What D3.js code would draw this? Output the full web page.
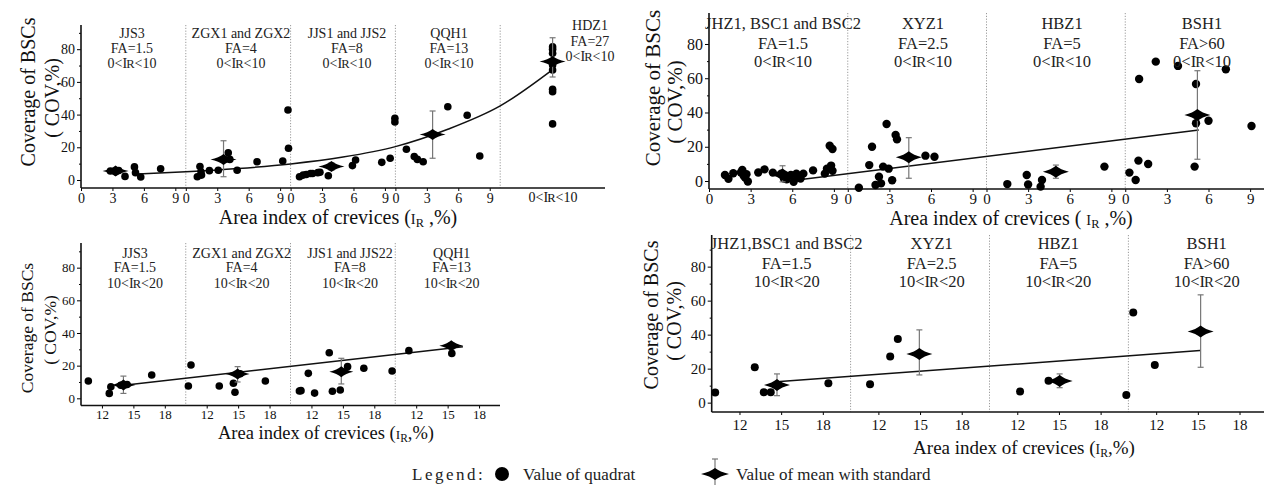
<!DOCTYPE html>
<html><head><meta charset="utf-8">
<script src="https://cdn.jsdelivr.net/npm/d3@7"></script>
<style>
body{margin:0;background:#fff}
svg{display:block}
svg text{font-family:"Liberation Serif","Tinos","Times New Roman","DejaVu Serif",serif}
</style>
</head><body>
<svg id="c" width="1264" height="485"></svg>
<script>
// ---------------- DATA ----------------
const yTicks = [0, 20, 40, 60, 80];
const lowTicks = [0, 3, 6, 9];
const highTicks = [12, 15, 18];

// Panel A (top-left): 0<IR<10
const pACats = ["JJS3", "ZGX1 and ZGX2", "JJS1 and JJS2", "QQH1", "HDZ1"];
const pAFA = ["=1.5", "=4", "=8", "=13", "=27"];
const pARange = ["0", "10"];
// [segment, IR (%), COV (%)]
const pAPoints = [
  [0,2.8,5.5],[0,3.3,5],[0,3.6,5.8],[0,4.2,2.2],[0,5.1,8],[0,5.2,4.5],[0,5.7,1.8],[0,7.6,6.8],
  [1,1.1,2],[1,1.35,8.2],[1,1.45,5],[1,1.5,3],[1,2.25,5.7],[1,3.1,6],[1,4.05,16.7],[1,4.2,12.6],[1,4.9,6],[1,6.8,11.2],[1,9.25,11.6],[1,9.8,19.4],[1,9.75,42.8],
  [2,0.85,2],[2,1.2,3],[2,1.5,3.4],[2,1.9,4],[2,2.1,4],[2,2.6,4.5],[2,2.8,4.7],[2,3.6,2.6],[2,5.9,8.8],[2,6.2,12.2],[2,8.7,10.8],[2,9.5,13.3],[2,9.95,37.7],[2,9.95,35.5],
  [3,1.05,18.8],[3,1.8,14.3],[3,2.1,12.6],[3,2.65,11.2],[3,5.0,44.8],[3,6.85,39.6],[3,8.05,14.7],
  [4,5,81.5],[4,5,80],[4,5,77.5],[4,5,70.3],[4,5,67.3],[4,5,55.5],[4,5,54],[4,5,34.3]
];
// [segment, IR, mean, low, high]
const pAMeans = [[0,3.3,5.5,4,7],[1,3.6,12.6,2,24],[2,3.9,8.2,6,10.5],[3,3.55,27.9,13.3,42.2],[4,5,72.4,63,87]];
// fitted curve [global IR position, COV]
const pAFit = [[5,3.6],[10,5],[15,7],[20,9.8],[25,14],[30,20.4],[35,31],[40,45.3],[45,67.5]];

// Panel B (top-right): 0<IR<10
const pBCats = ["JHZ1, BSC1 and BSC2", "XYZ1", "HBZ1", "BSH1"];
const pBFA = ["=1.5", "=2.5", "=5", ">60"];
const pBRange = ["0", "10"];
const pBPoints = [
  [0,1.15,3.5],[0,1.4,1.3],[0,1.75,4.5],[0,2.3,5],[0,2.4,6.5],[0,2.5,3],[0,2.7,4],[0,2.8,-0.3],[0,2.6,2],[0,3.55,5],[0,4.0,6.8],[0,4.6,4.9],[0,5.2,4.3],[0,5.4,1.5],[0,5.6,1],[0,5.9,3.5],[0,6.1,-0.5],[0,6.3,4.3],[0,6.4,2],[0,6.6,1.5],[0,6.8,4.3],[0,7.5,6.2],[0,8.35,4.3],[0,8.5,7.2],[0,8.7,20.6],[0,8.9,18.7],[0,8.8,9],[0,8.9,6],
  [1,0.8,-3.9],[1,1.55,9.3],[1,1.75,20],[1,2.0,-2.3],[1,2.25,2.5],[1,2.4,-1.4],[1,2.55,8.4],[1,2.8,33.3],[1,2.95,7.2],[1,3.2,0.4],[1,3.45,26.9],[1,3.55,24.3],[1,5.6,14.8],[1,6.25,14.2],
  [2,1.5,-1.8],[2,2.9,3.5],[2,3.0,-2],[2,4.0,0.6],[2,3.9,-3.3],[2,8.5,8.4],
  [3,0.3,4.9],[3,0.75,0.6],[3,0.95,11.9],[3,1.65,9.9],[3,1.0,59.6],[3,2.2,69.7],[3,3.8,67.2],[3,7.25,65.2],[3,5.1,56.6],[3,5.1,33.7],[3,6.0,35.2],[3,9.1,32.1],[3,5.0,8.4]
];
const pBMeans = [[0,5.3,3.8,-0.5,8.9],[1,4.4,13.8,1.6,25.3],[2,5.0,5.4,1.6,9.3],[3,5.2,38.5,12.7,64.4]];
const pBFit = [[6.5,0.8],[35.3,29.8]];

// Panel C (bottom-left): 10<IR<20
const pCCats = ["JJS3", "ZGX1 and ZGX2", "JJS1 and JJS22", "QQH1"];
const pCFA = ["=1.5", "=4", "=8", "=13"];
const pCRange = ["10", "20"];
const pCPoints = [
  [0,10.7,10.6],[0,12.7,3],[0,12.85,7.1],[0,13.8,8],[0,14.4,8.5],[0,16.75,14.3],
  [1,10.5,20.4],[1,10.25,7.5],[1,13.2,7.5],[1,14.55,9.2],[1,14.7,3.7],[1,17.6,10.6],[1,15.2,15],
  [2,10.85,4.5],[2,11.0,4.7],[2,11.7,15.3],[2,12.3,3.2],[2,13.7,27.9],[2,14.0,4.3],[2,14.75,5.1],[2,15.45,19.4],[2,17.0,18.4],[2,19.7,16.7],
  [3,11.3,29.2],[3,15.4,27.5]
];
const pCMeans = [[0,14.05,8.1,3,13.6],[1,14.95,14.9,10,19.4],[2,14.85,16.3,8.8,24.5],[3,15.35,32.2,30,34]];
const pCFit = [[4.3,8.2],[36.46,31.6]];

// Panel D (bottom-right): 10<IR<20
const pDCats = ["JHZ1,BSC1 and BSC2", "XYZ1", "HBZ1", "BSH1"];
const pDFA = ["=1.5", "=2.5", "=5", ">60"];
const pDRange = ["10", "20"];
const pDPoints = [
  [0,10.25,5.9],[0,13.1,20.8],[0,13.75,6.1],[0,14.25,6.1],[0,18.4,11.4],
  [1,11.4,10.8],[1,12.85,27.1],[1,13.4,37.5],
  [2,12.2,6.5],[2,14.25,12.9],[2,19.85,4.5],
  [3,10.35,53],[3,11.9,22.2]
];
const pDMeans = [[0,14.7,10.4,4.1,16.9],[1,14.95,28.6,16.3,42.8],[2,15.05,12.8,8.8,16.9],[3,15.2,41.8,20.8,63.4]];
const pDFit = [[4.92,12.4],[35.16,30.6]];

// ---------------- DRAWING ----------------
const svg = d3.select("#c");
const FONT = '"Liberation Serif","Tinos","Times New Roman","DejaVu Serif",serif';

function diamondPath(w, h) {
  const cx = w * 0.35, cy = h * 0.35;
  return `M${-w},0 Q${-cx},${-cy} 0,${-h} Q${cx},${-cy} ${w},0 Q${cx},${cy} 0,${h} Q${-cx},${cy} ${-w},0Z`;
}
function rangeText(sel, lo, hi) {
  sel.append("tspan").text(lo + "<I");
  sel.append("tspan").attr("font-size", "0.9em").attr("dx", -1).text("R");
  sel.append("tspan").text("<" + hi);
}
function xLabel(sel, pre, post) {
  sel.append("tspan").text("Area index of crevices (" + pre);
  sel.append("tspan").attr("font-size", "0.72em").text("I");
  sel.append("tspan").attr("font-size", "0.62em").attr("dy", 3).text("R");
  sel.append("tspan").attr("dy", -3).text(post + ",%)");
}

function drawPanel(o) {
  const g = svg.append("g").attr("font-family", FONT);
  const nSeg = o.cats.length;
  const x = d3.scaleLinear().domain([0, o.nDomain]).range([o.x0, o.x1]);
  const y = d3.scaleLinear().domain([o.yMin, o.yMax]).range([o.yB, o.yT]);
  const gx = (s, v) => x(s * 10 + v - o.off);

  for (let s = 1; s < nSeg; s++) {
    g.append("line").attr("x1", x(s * 10)).attr("x2", x(s * 10))
      .attr("y1", o.yT).attr("y2", o.yB)
      .attr("stroke", "#9a9a9a").attr("stroke-width", 1).attr("stroke-dasharray", "1.2,1.6");
  }

  const ya = g.append("g").attr("transform", `translate(${o.x0},0)`)
    .call(d3.axisLeft(y).tickValues(yTicks).tickSize(4).tickSizeOuter(0).tickPadding(2).tickFormat(d3.format("d")));
  ya.attr("font-family", FONT);
  ya.select(".domain").remove();
  ya.selectAll("text").attr("font-family", FONT).attr("font-size", o.ytFs).attr("fill", "#111");
  const ym = g.append("g").attr("transform", `translate(${o.x0},0)`)
    .call(d3.axisLeft(y).tickValues([10, 30, 50, 70, 90].filter(v => v < o.yMax)).tickSize(2).tickFormat(""));
  ym.select(".domain").remove();

  const tv = [], tl = {};
  for (let s = 0; s < o.tickSegs; s++) {
    o.ticks.forEach(t => { const p = s * 10 + t - o.off; tv.push(p); tl[p] = String(t); });
  }
  const xa = g.append("g").attr("transform", `translate(0,${o.yB})`)
    .call(d3.axisBottom(x).tickValues(tv).tickSize(3).tickSizeOuter(0).tickPadding(o.tickPad).tickFormat(d => tl[d]));
  xa.attr("font-family", FONT);
  xa.select(".domain").remove();
  xa.selectAll("text").attr("font-family", FONT).attr("font-size", o.tickFs).attr("fill", "#111");

  g.append("line").attr("x1", o.x0).attr("x2", o.x0).attr("y1", o.yT).attr("y2", o.yB).attr("stroke", "#111").attr("stroke-width", 1.6);
  g.append("line").attr("x1", o.x0).attr("x2", o.x1).attr("y1", o.yB).attr("y2", o.yB).attr("stroke", "#111").attr("stroke-width", 1.6);

  g.append("path").datum(o.fit)
    .attr("d", d3.line().x(d => x(d[0])).y(d => y(d[1])).curve(d3.curveMonotoneX))
    .attr("fill", "none").attr("stroke", "#111").attr("stroke-width", 1.5);

  g.selectAll("circle.pt").data(o.points).join("circle").attr("class", "pt")
    .attr("cx", d => gx(d[0], d[1])).attr("cy", d => y(d[2])).attr("r", o.r).attr("fill", "#000");

  o.means.forEach(m => {
    const cx = gx(m[0], m[1]);
    g.append("line").attr("x1", cx).attr("x2", cx).attr("y1", y(m[3])).attr("y2", y(m[4]))
      .attr("stroke", "#777").attr("stroke-width", 1.2);
    [m[3], m[4]].forEach(v => g.append("line").attr("x1", cx - 3).attr("x2", cx + 3)
      .attr("y1", y(v)).attr("y2", y(v)).attr("stroke", "#777").attr("stroke-width", 1.2));
    g.append("path").attr("d", diamondPath(o.dw, o.dh))
      .attr("transform", `translate(${cx},${y(m[2])})`).attr("fill", "#000");
  });

  o.cats.forEach((c, i) => {
    const lx = o.labX[i];
    const ly = o.labY[i] || o.labY[0];
    const t = g.append("g").attr("font-size", o.labFs).attr("fill", "#222").attr("text-anchor", "middle");
    t.append("text").attr("x", lx).attr("y", ly[0]).text(c);
    t.append("text").attr("x", lx).attr("y", ly[1]).text("FA" + o.fa[i]);
    const r = t.append("text").attr("x", lx).attr("y", ly[2]);
    rangeText(r, o.range[0], o.range[1]);
  });

  const xl = g.append("text").attr("x", o.xlX).attr("y", o.xlY).attr("text-anchor", "middle")
    .attr("font-size", o.xlFs).attr("fill", "#111");
  xLabel(xl, o.xlPre, o.xlPost);

  g.append("text").attr("transform", `translate(${o.yl1[0]},${o.yl1[1]}) rotate(-90)`)
    .attr("text-anchor", "middle").attr("font-size", o.ylFs).attr("fill", "#111").text("Coverage of BSCs");
  g.append("text").attr("transform", `translate(${o.yl2[0]},${o.yl2[1]}) rotate(-90)`)
    .attr("text-anchor", "middle").attr("font-size", o.ylFs).attr("fill", "#111").text("( COV,%)");
  return { g, x, y };
}

const pA = drawPanel({
  cats: pACats, fa: pAFA, range: pARange, points: pAPoints, means: pAMeans, fit: pAFit,
  nDomain: 50, off: 0, ticks: lowTicks, tickSegs: 4,
  x0: 81, x1: 605, yT: 25, yB: 188, yMin: -4.9, yMax: 94.8,
  tickFs: 14, ytFs: 14, tickPad: 2, r: 3.8, dw: 13, dh: 5.5,
  labFs: 14, labX: [132, 241, 347, 449, 590],
  labY: [[38, 53, 68], [38, 53, 68], [38, 53, 68], [38, 53, 68], [30, 46, 61]],
  xlX: 338, xlY: 224, xlFs: 20, xlPre: "", xlPost: " ",
  ylFs: 20, yl1: [35, 92], yl2: [59, 98]
});
pA.g.append("text").attr("x", 553).attr("y", 202).attr("text-anchor", "middle")
  .attr("font-size", 14).attr("fill", "#111").call(s => rangeText(s, "0", "10"));

drawPanel({
  cats: pBCats, fa: pBFA, range: pBRange, points: pBPoints, means: pBMeans, fit: pBFit,
  nDomain: 40, off: 0, ticks: lowTicks, tickSegs: 4,
  x0: 709, x1: 1264, yT: 13, yB: 189, yMin: -4.67, yMax: 98.1,
  tickFs: 15, ytFs: 16, tickPad: 1, r: 4.2, dw: 13, dh: 6,
  labFs: 16.5, labX: [783, 923, 1062, 1202],
  labY: [[29, 49, 67]],
  xlX: 1011, xlY: 225, xlFs: 20, xlPre: " ", xlPost: " ",
  ylFs: 21, yl1: [660, 88], yl2: [682, 102]
});

drawPanel({
  cats: pCCats, fa: pCFA, range: pCRange, points: pCPoints, means: pCMeans, fit: pCFit,
  nDomain: 40, off: 10, ticks: highTicks, tickSegs: 4,
  x0: 81, x1: 500, yT: 243, yB: 405.5, yMin: -4.4, yMax: 95.1,
  tickFs: 13, ytFs: 13, tickPad: 1, r: 3.8, dw: 12, dh: 5.5,
  labFs: 14, labX: [135, 241.7, 350, 451.7],
  labY: [[258, 272, 288]],
  xlX: 326, xlY: 439, xlFs: 18.5, xlPre: "", xlPost: "",
  ylFs: 17.5, yl1: [33, 328], yl2: [56, 330]
});

drawPanel({
  cats: pDCats, fa: pDFA, range: pDRange, points: pDPoints, means: pDMeans, fit: pDFit,
  nDomain: 40, off: 10, ticks: highTicks, tickSegs: 4,
  x0: 711.7, x1: 1267.3, yT: 235, yB: 412, yMin: -5.5, yMax: 98.6,
  tickFs: 15, ytFs: 15, tickPad: 4, r: 4, dw: 13, dh: 6,
  labFs: 16.5, labX: [786.7, 931.7, 1058.3, 1206.7],
  labY: [[249, 269, 287]],
  xlX: 1024, xlY: 454, xlFs: 19, xlPre: "", xlPost: "",
  ylFs: 20, yl1: [658, 315], yl2: [681, 321]
});

const lg = svg.append("g").attr("font-family", FONT).attr("font-size", 17).attr("fill", "#222");
lg.append("text").attr("x", 412).attr("y", 480).attr("letter-spacing", 2.5).text("Legend:");
lg.append("circle").attr("cx", 502).attr("cy", 474).attr("r", 7).attr("fill", "#000");
lg.append("text").attr("x", 523).attr("y", 480).text("Value of quadrat");
lg.append("line").attr("x1", 715).attr("x2", 715).attr("y1", 459).attr("y2", 489).attr("stroke", "#777").attr("stroke-width", 1.2);
lg.append("line").attr("x1", 712).attr("x2", 718).attr("y1", 459).attr("y2", 459).attr("stroke", "#777").attr("stroke-width", 1.2);
lg.append("path").attr("d", diamondPath(14, 6)).attr("transform", "translate(715,474)").attr("fill", "#000");
lg.append("text").attr("x", 736).attr("y", 480).text("Value of mean with standard");
</script>
</body></html>
